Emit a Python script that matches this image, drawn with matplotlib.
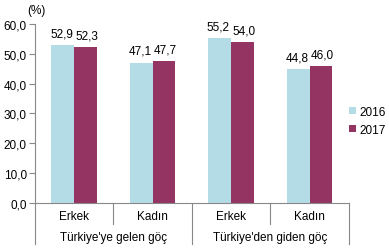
import numpy as np
import matplotlib.pyplot as plt
from matplotlib.lines import Line2D

plt.rcParams['font.family'] = ['Liberation Sans', 'DejaVu Sans']

categories = ["Erkek", "Kadın", "Erkek", "Kadın"]
groups = ["Türkiye'ye gelen göç", "Türkiye'den giden göç"]
years = ["2016", "2017"]
vals_2016 = [52.9, 47.1, 55.2, 44.8]
vals_2017 = [52.3, 47.7, 54.0, 46.0]
colors = ["#B4DCE6", "#943462"]

fig = plt.figure(figsize=(3.89, 2.53), dpi=100)
ax = fig.add_axes([0.09, 0.194, 0.807, 0.707])

x = np.arange(len(categories))
w = 0.29
b1 = ax.bar(x - w/2, vals_2016, w, color=colors[0], label=years[0])
b2 = ax.bar(x + w/2, vals_2017, w, color=colors[1], label=years[1])

for bars, vals, dx in ((b1, vals_2016, -1), (b2, vals_2017, 1)):
    for r, v in zip(bars, vals):
        ax.annotate(f"{v:.1f}".replace(".", ","), (r.get_x() + r.get_width()/2, v),
                    xytext=(dx, 4), textcoords="offset points",
                    ha="center", va="bottom", fontsize=8.5)

ax.set_xlim(-0.5, 3.5)
ax.set_ylim(0, 60)
ax.set_yticks(np.arange(0, 61, 10))
ax.set_yticklabels([f"{t:.1f}".replace(".", ",") for t in np.arange(0, 61, 10)], fontsize=8.5)
ax.tick_params(axis="y", length=4, width=0.8, color="#888888", pad=2)
ax.set_xticks([])
for s in ["top", "right"]:
    ax.spines[s].set_visible(False)
ax.spines["left"].set_color("#888888")
ax.spines["bottom"].set_color("#888888")

# category and group labels below the axis
trans = ax.get_xaxis_transform()
for xi, c in zip(x, categories):
    ax.text(xi, -0.073, c, transform=trans, ha="center", va="center", fontsize=8.5)
for gi, g in enumerate(groups):
    ax.text(gi*2 + 0.5, -0.19, g, transform=trans, ha="center", va="center", fontsize=8.5)

for xs, depth in [(-0.5, -0.23), (0.5, -0.117), (1.5, -0.23), (2.5, -0.117), (3.5, -0.23)]:
    ax.add_line(Line2D([xs, xs], [0, depth], transform=trans, color="#888888",
                       lw=0.8, clip_on=False))

ax.text(-0.025, 1.08, "(%)", transform=ax.transAxes, ha="left", va="center", fontsize=8.5)

ax.legend(loc="center left", bbox_to_anchor=(0.985, 0.46), frameon=False,
          fontsize=8.5, handlelength=0.6, handleheight=0.6, handletextpad=0.3,
          labelspacing=0.5, borderaxespad=0)

fig.savefig("out.png", dpi=100)
